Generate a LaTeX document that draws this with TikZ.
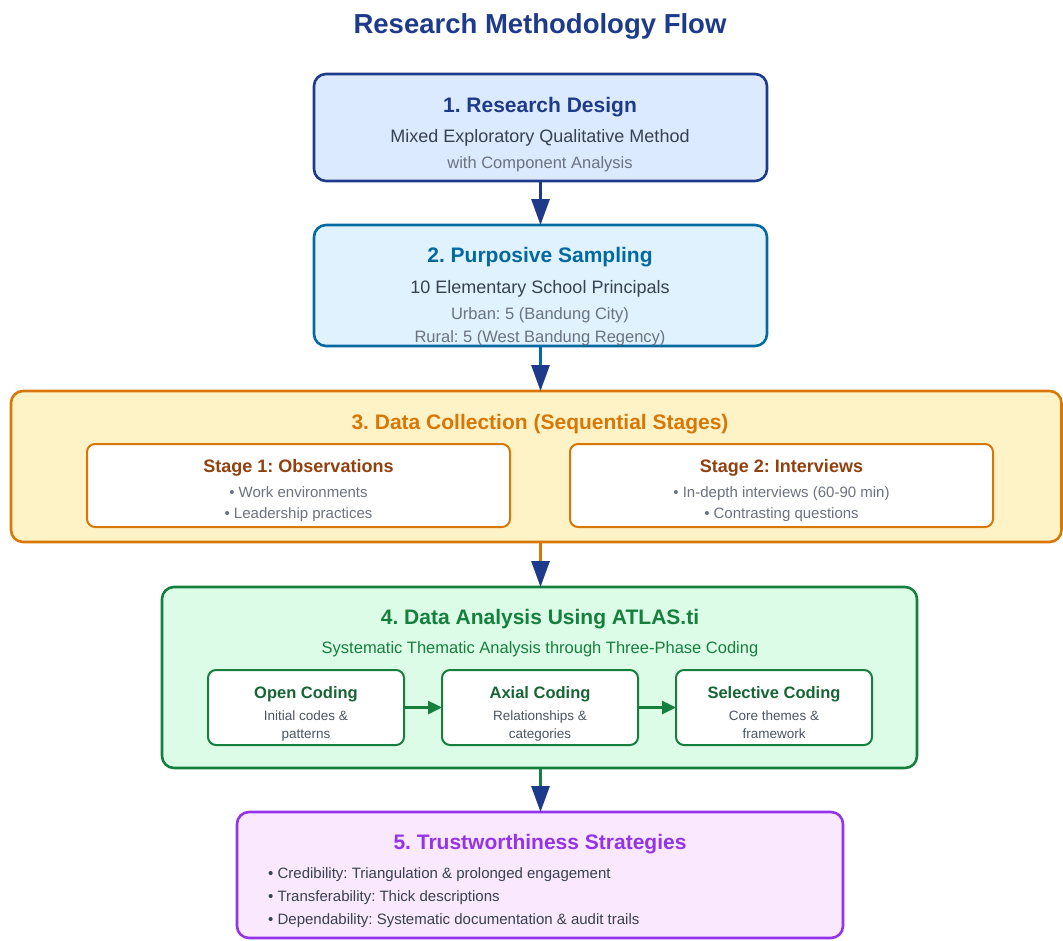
\documentclass[tikz,border=0pt]{standalone}
\usepackage{fontspec}
\setmainfont{Liberation Sans}
\usetikzlibrary{arrows.meta}
\frenchspacing

% palette
\definecolor{navy}{HTML}{1E3A8A}
\definecolor{sky}{HTML}{0369A1}
\definecolor{amber}{HTML}{D97706}
\definecolor{brownish}{HTML}{92400E}
\definecolor{forest}{HTML}{15803D}
\definecolor{darkgreen}{HTML}{166534}
\definecolor{violet}{HTML}{9333EA}
\definecolor{ink}{HTML}{374151}
\definecolor{muted}{HTML}{6B7280}
\definecolor{slate}{HTML}{4B5563}
\definecolor{fillA}{HTML}{DBEAFE}
\definecolor{fillB}{HTML}{E0F2FE}
\definecolor{fillC}{HTML}{FEF3C7}
\definecolor{fillD}{HTML}{DCFCE7}
\definecolor{fillE}{HTML}{FAE8FF}

\newcommand{\fs}[1]{\fontsize{#1}{#1}\selectfont}

\begin{document}
\begin{tikzpicture}[x=1pt,y=-1pt,
  phase/.style={rectangle, rounded corners=12pt, line width=2.6pt, inner sep=0pt, outer sep=0pt},
  inner/.style={rectangle, rounded corners=8pt, line width=2pt, fill=white, inner sep=0pt, outer sep=0pt},
  txt/.style={anchor=base, inner sep=0pt},
  head/.style={txt, font=\fs{21}\bfseries},
  main/.style={txt, font=\fs{18}, text=ink},
  sub/.style={txt, font=\fs{16.5}, text=muted},
  conn/.style={line width=3pt, -{Triangle[length=26pt,width=18pt,color=navy]}},
  step arrow/.style={line width=2.5pt, draw=forest, -{Triangle[length=14pt,width=13pt,color=forest]}}
]
\useasboundingbox (0,0) rectangle (1063,940);

% heading
\node[txt, font=\fs{27.5}\bfseries, text=navy] (heading) at (540,33) {Research Methodology Flow};

% phase boxes
\node[phase, fill=fillA, draw=navy, minimum width=453pt, minimum height=107pt] (b1) at (540.5,127.5) {};
\node[phase, fill=fillB, draw=sky, minimum width=453pt, minimum height=121pt] (b2) at (540.5,285.5) {};
\node[phase, fill=fillC, draw=amber, minimum width=1050.5pt, minimum height=151pt] (b3) at (536.25,466.5) {};
\node[phase, fill=fillD, draw=forest, minimum width=755pt, minimum height=181pt] (b4) at (539.5,677.5) {};
\node[phase, fill=fillE, draw=violet, minimum width=606pt, minimum height=126pt] (b5) at (540,875) {};

% 1. research design
\node[head, text=navy] (t1) at (540,112) {1. Research Design};
\node[main] (t1a) at (540,142) {Mixed Exploratory Qualitative Method};
\node[sub] (t1b) at (540,168) {with Component Analysis};

% 2. sampling
\node[head, text=sky] (t2) at (540,262) {2. Purposive Sampling};
\node[main] (t2a) at (540,293) {10 Elementary School Principals};
\node[sub] (t2b) at (540,319) {Urban: 5 (Bandung City)};
\node[sub] (t2c) at (540,342) {Rural: 5 (West Bandung Regency)};

% 3. data collection
\node[head, text=amber] (t3) at (540,429) {3. Data Collection (Sequential Stages)};
\node[inner, draw=amber, minimum width=423pt, minimum height=83pt] (s1) at (298.5,485.5) {};
\node[inner, draw=amber, minimum width=423pt, minimum height=83pt] (s2) at (781.5,485.5) {};
\node[txt, font=\fs{18}\bfseries, text=brownish] (s1t) at (298.5,472) {Stage 1: Observations};
\node[txt, font=\fs{15}, text=muted] (s1a) at (298.5,497) {• Work environments};
\node[txt, font=\fs{15}, text=muted] (s1b) at (298.5,518) {• Leadership practices};
\node[txt, font=\fs{18}\bfseries, text=brownish] (s2t) at (781.5,472) {Stage 2: Interviews};
\node[txt, font=\fs{15}, text=muted] (s2a) at (781.5,497) {• In-depth interviews (60-90 min)};
\node[txt, font=\fs{15}, text=muted] (s2b) at (781.5,518) {• Contrasting questions};

% 4. data analysis
\node[head, text=forest] (t4) at (540,624) {4. Data Analysis Using ATLAS.ti};
\node[txt, font=\fs{16.5}, text=forest] (t4a) at (540,653) {Systematic Thematic Analysis through Three-Phase Coding};
\node[inner, draw=forest, minimum width=196pt, minimum height=75pt] (oc) at (306,707.5) {};
\node[inner, draw=forest, minimum width=196pt, minimum height=75pt] (ac) at (540,707.5) {};
\node[inner, draw=forest, minimum width=196pt, minimum height=75pt] (sc) at (774,707.5) {};
\foreach \nm/\cx/\ttl/\la/\lb in {oc/306/Open Coding/Initial codes \&/patterns,
                                  ac/540/Axial Coding/Relationships \&/categories,
                                  sc/774/Selective Coding/Core themes \&/framework}{
  \node[txt, font=\fs{16.5}\bfseries, text=darkgreen] (\nm-t) at (\cx,698) {\ttl};
  \node[txt, font=\fs{13.5}, text=slate] (\nm-a) at (\cx,720) {\la};
  \node[txt, font=\fs{13.5}, text=slate] (\nm-b) at (\cx,738.5) {\lb};
}
\draw[step arrow] (oc.east) -- (ac.west);
\draw[step arrow] (ac.east) -- (sc.west);

% 5. trustworthiness
\node[head, text=violet] (t5) at (540,849) {5. Trustworthiness Strategies};
\node[txt, anchor=base west, font=\fs{15}, text=ink] (t5a) at (268,878) {• Credibility: Triangulation \& prolonged engagement};
\node[txt, anchor=base west, font=\fs{15}, text=ink] (t5b) at (268,901.5) {• Transferability: Thick descriptions};
\node[txt, anchor=base west, font=\fs{15}, text=ink] (t5c) at (268,924.5) {• Dependability: Systematic documentation \& audit trails};

% flow connectors, kept vertical
\draw[conn, draw=navy] (b1.south) -- (b2.north);
\draw[conn, draw=sky] (b2.south) -- (b2.south |- b3.north);
\draw[conn, draw=amber] (b2.south |- b3.south) -- (b2.south |- b4.north);
\draw[conn, draw=forest] (b2.south |- b4.south) -- (b2.south |- b5.north);
\end{tikzpicture}
\end{document}
